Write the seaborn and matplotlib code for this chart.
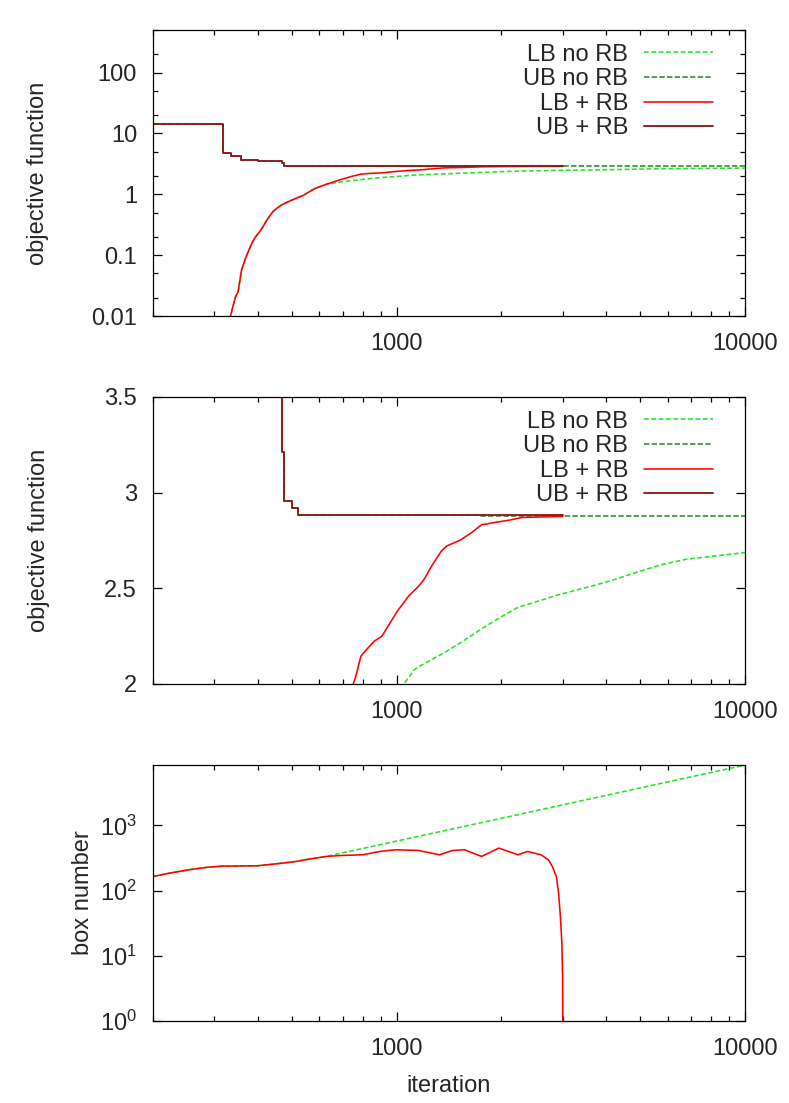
import numpy as np
import matplotlib
matplotlib.use("Agg")
import matplotlib.pyplot as plt
import matplotlib.ticker as mticker
import seaborn as sns

# ---- data ----
# upper bound with range bisection (step function)
ub_rb_x = [200, 318, 336, 357, 400, 440, 470, 474, 500, 523, 3000]
ub_rb_y = [14.2, 4.8, 4.24, 3.6, 3.56, 3.52, 3.21, 2.958, 2.92, 2.883, 2.883]

# upper bound without range bisection
ub_norb_x = [200, 318, 336, 357, 400, 440, 470, 474, 500, 523, 1750, 10000]
ub_norb_y = [14.2, 4.8, 4.24, 3.6, 3.56, 3.52, 3.21, 2.958, 2.92, 2.883, 2.877, 2.877]

# lower bound with range bisection
lb_rb_x = [325, 334, 339, 345, 351, 359, 370, 384, 394, 408, 424, 441, 452, 470,
           500, 540, 582, 629, 695, 751, 764, 790, 820, 864, 908, 944, 1005, 1084,
           1156, 1200, 1262, 1346, 1396, 1525, 1645, 1754, 1914, 2118, 2288, 3000]
lb_rb_y = [0.005, 0.01, 0.0142, 0.0207, 0.025, 0.0568, 0.094, 0.155, 0.2, 0.257,
           0.375, 0.513, 0.58, 0.68, 0.80, 0.96, 1.24, 1.46, 1.76, 2.0, 2.04, 2.145,
           2.18, 2.224, 2.25, 2.30, 2.38, 2.46, 2.51, 2.547, 2.617, 2.696, 2.722,
           2.752, 2.792, 2.832, 2.844, 2.857, 2.87, 2.876]

# lower bound without range bisection
lb_norb_x = [325, 334, 339, 345, 351, 359, 370, 384, 394, 408, 424, 441, 452, 470,
             500, 540, 582, 629, 695, 790, 900, 1050, 1125, 1183, 1343, 1524, 1775,
             2014, 2228, 2467, 2942, 3606, 4095, 5010, 5833, 6790, 8318, 10000]
lb_norb_y = [0.005, 0.01, 0.0142, 0.0207, 0.025, 0.0568, 0.094, 0.155, 0.2, 0.257,
             0.375, 0.513, 0.58, 0.68, 0.80, 0.96, 1.24, 1.46, 1.60, 1.74, 1.88, 2.0,
             2.075, 2.10, 2.154, 2.215, 2.294, 2.355, 2.40, 2.425, 2.468, 2.51, 2.538,
             2.59, 2.626, 2.652, 2.67, 2.687]

# number of boxes
box_rb_x = [200, 223, 253, 287, 317, 399, 452, 514, 568, 629, 695, 800, 896, 993,
            1156, 1328, 1450, 1566, 1754, 1966, 2230, 2376, 2596, 2730, 2800, 2876,
            2918, 2953, 2982, 2997, 3000, 3002]
box_rb_y = [164, 185, 208, 228, 237, 240, 257, 279, 307, 334, 345, 354, 398, 422,
            412, 354, 412, 422, 334, 448, 354, 398, 354, 296, 234, 164, 91, 40, 15.5,
            4.75, 1, 0.5]

box_norb_x = [200, 223, 253, 287, 317, 399, 452, 514, 568, 629, 1000, 2000, 3000,
              5000, 7000, 10000]
box_norb_y = [164, 185, 208, 228, 237, 240, 257, 279, 307, 334, 573, 1282, 2061,
              3738, 5534, 8380]

labels = ["LB no RB", "UB no RB", "LB + RB", "UB + RB"]
colors = ["#22e622", "#2e8b2e", "#ff0000", "#8b1a1a"]

FS = 17

sns.set_style("ticks")
plt.rcParams["font.family"] = ["Liberation Sans", "DejaVu Sans"]
plt.rcParams["mathtext.default"] = "regular"
plt.rcParams["font.size"] = FS

fig = plt.figure(figsize=(7.89, 11.03), dpi=100)
ax1 = fig.add_axes([0.1939, 0.7135, 0.7503, 0.2593])
ax2 = fig.add_axes([0.1939, 0.3799, 0.7503, 0.2602])
ax3 = fig.add_axes([0.1939, 0.0743, 0.7503, 0.2321])

dash_a = (0, (3.0, 1.6))
dash_b = (0, (3.4, 1.4))
lw = 1.15


def draw_bounds(ax):
    sns.lineplot(x=lb_norb_x, y=lb_norb_y, ax=ax, color=colors[0], lw=lw,
                 linestyle=dash_a, estimator=None, sort=False, label=labels[0])
    sns.lineplot(x=ub_norb_x, y=ub_norb_y, ax=ax, color=colors[1], lw=lw,
                 linestyle=dash_b, estimator=None, sort=False,
                 drawstyle="steps-post", label=labels[1])
    sns.lineplot(x=lb_rb_x, y=lb_rb_y, ax=ax, color=colors[2], lw=lw,
                 estimator=None, sort=False, label=labels[2])
    sns.lineplot(x=ub_rb_x, y=ub_rb_y, ax=ax, color=colors[3], lw=lw + 0.2,
                 estimator=None, sort=False, drawstyle="steps-post", label=labels[3])
    ax.legend(loc="upper right", bbox_to_anchor=(0.946, 0.9525), borderaxespad=0,
              borderpad=0, frameon=False, markerfirst=False, handlelength=2.92,
              handletextpad=0.68, labelspacing=0.11, fontsize=FS)


def style_axis(ax):
    ax.set_xscale("log")
    ax.set_xlim(200, 10000)
    ax.xaxis.set_major_locator(mticker.FixedLocator([1000, 10000]))
    ax.xaxis.set_major_formatter(mticker.FormatStrFormatter("%d"))
    ax.xaxis.set_minor_locator(mticker.LogLocator(subs=np.arange(2, 10)))
    ax.xaxis.set_minor_formatter(mticker.NullFormatter())
    ax.tick_params(which="both", direction="in", top=True, right=True,
                   color="black", width=0.9)
    ax.tick_params(which="major", length=6.5)
    ax.tick_params(which="minor", length=3.5)
    ax.tick_params(axis="x", which="major", pad=12.5)
    ax.tick_params(axis="y", which="major", pad=11.5)
    ax.set_xlabel("")
    for s in ax.spines.values():
        s.set_color("black")
        s.set_linewidth(0.9)


draw_bounds(ax1)
ax1.set_yscale("log")
ax1.set_ylim(0.01, 500)
style_axis(ax1)
ax1.yaxis.set_major_locator(mticker.FixedLocator([0.01, 0.1, 1, 10, 100]))
ax1.yaxis.set_major_formatter(mticker.FuncFormatter(lambda v, p: f"{v:g}"))
ax1.yaxis.set_minor_locator(mticker.LogLocator(subs=(2, 5)))
ax1.yaxis.set_minor_formatter(mticker.NullFormatter())
ax1.set_ylabel("objective function")
ax1.yaxis.set_label_coords(-0.176, 0.5)

draw_bounds(ax2)
ax2.set_ylim(2, 3.5)
style_axis(ax2)
ax2.yaxis.set_major_locator(mticker.FixedLocator([2, 2.5, 3, 3.5]))
ax2.yaxis.set_major_formatter(mticker.FuncFormatter(lambda v, p: f"{v:g}"))
ax2.yaxis.set_minor_locator(mticker.NullLocator())
ax2.set_ylabel("objective function")
ax2.yaxis.set_label_coords(-0.174, 0.5)

sns.lineplot(x=box_norb_x, y=box_norb_y, ax=ax3, color=colors[0], lw=lw,
             linestyle=dash_a, estimator=None, sort=False)
sns.lineplot(x=box_rb_x, y=box_rb_y, ax=ax3, color=colors[2], lw=lw,
             estimator=None, sort=False)
ax3.set_yscale("log")
ax3.set_ylim(1, 8400)
style_axis(ax3)
ax3.yaxis.set_major_locator(mticker.FixedLocator([1, 10, 100, 1000]))
ax3.yaxis.set_major_formatter(mticker.FuncFormatter(
    lambda v, p: r"$10^{%d}$" % int(round(np.log10(v)))))
ax3.yaxis.set_minor_locator(mticker.NullLocator())
ax3.set_ylabel("box number")
ax3.yaxis.set_label_coords(-0.10, 0.5)
ax3.set_xlabel("iteration")
ax3.xaxis.set_label_coords(0.5, -0.21)

fig.savefig("out.png", dpi=100)
